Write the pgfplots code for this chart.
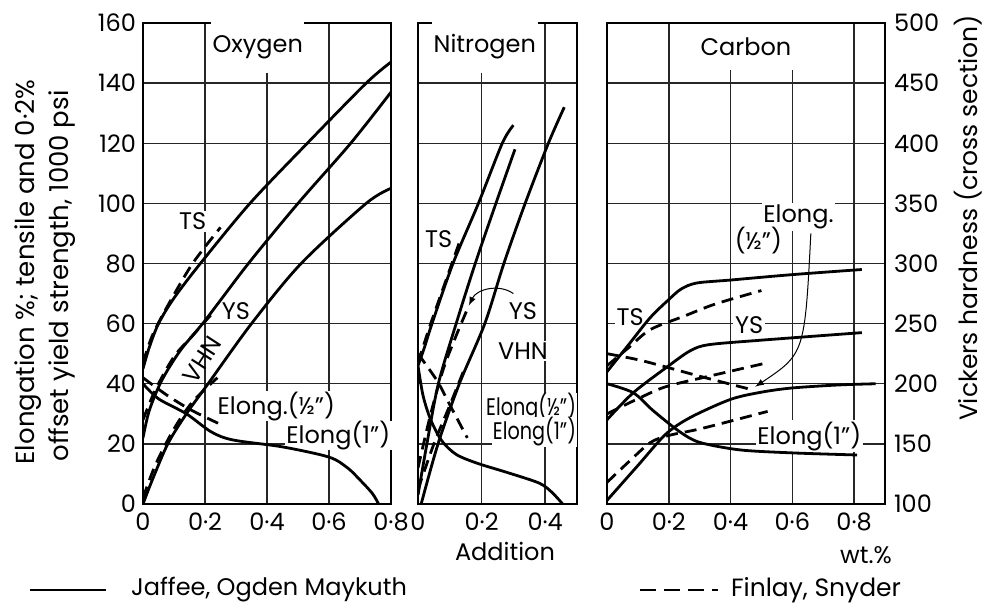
\documentclass[border=0pt]{standalone}
\usepackage{fontspec}
\setmainfont{Poppins}
\usepackage{pgfplots}
\pgfplotsset{compat=1.18}
\newcommand\lbl{\fontsize{12}{14}\selectfont}
\tikzset{
  fs/.style={dash pattern=on 6pt off 3.5pt},
  lab/.style={font=\lbl, fill=white, inner sep=0.8pt},
}
\pgfplotsset{
  panel/.style={
    scale only axis, height=240.5pt, ymin=0, ymax=160,
    ytick={0,20,...,160}, grid=major,
    grid style={black!85, line width=0.75pt},
    axis line style={line width=1.2pt}, major tick length=0pt,
    tick label style={font=\lbl},
    xticklabel style={yshift=-1pt},
    anchor=south west, clip mode=individual,
    cycle list={{black,solid}},
    every axis plot/.append style={line width=1.4pt, black, smooth, no marks},
  },
  vhn/.style={y filter/.expression={(y-100)/2.5}},
}
\begin{document}
\begin{tikzpicture}[font=\lbl]
\useasboundingbox (0pt,-304.5pt) rectangle (493.5pt,0pt);
% ---------------- Oxygen ----------------
\begin{axis}[panel, at={(71.5pt,-252pt)}, width=124pt,
  xmin=0, xmax=0.8, xtick={0,0.2,0.4,0.6,0.8},
  xticklabels={0,0·2,0·4,0·6,0·8},
  yticklabels={0,20,40,60,80,100,120,140,160}]
\node[lab, inner ysep=7pt] at (axis cs:0.37,152) {Oxygen};
\node[lab] at (axis cs:0.16,94) {TS};
\node[lab] at (axis cs:0.30,64) {YS};
\node[font=\lbl, rotate=57, inner sep=0pt] at (axis cs:0.19,48) {VHN};
\node[lab, inner ysep=0.3pt] at (axis cs:0.43,32.5) {Elong.(½")};
\node[lab, inner ysep=0pt] at (axis cs:0.63,22.8) {Elong(1")};
% TS
\addplot coordinates {(0,45)(0.02,52)(0.05,60)(0.1,68.5)(0.185,80)(0.345,100)(0.53,120)(0.72,140)(0.8,147)};
\addplot[fs] coordinates {(0,47)(0.03,56)(0.08,66)(0.16,80)(0.25,92)};
% YS
\addplot coordinates {(0,22)(0.02,31)(0.06,41)(0.12,51)(0.2,61)(0.34,80)(0.5,100)(0.67,120)(0.8,137)};
\addplot[fs] coordinates {(0,28)(0.04,38)(0.1,49)(0.16,56)(0.22,63)};
% VHN (Vickers)
\addplot[vhn] coordinates {(0,100)(0.03,120)(0.08,150)(0.14,175)(0.21,200)(0.35,250)(0.51,300)(0.72,350)(0.8,362.5)};
\addplot[vhn,fs] coordinates {(0,105)(0.04,132.5)(0.1,162.5)(0.16,185)(0.24,205)};
% Elongation
\addplot coordinates {(0,40)(0.05,35)(0.14,30)(0.22,24)(0.29,21.3)(0.45,19)(0.6,15.6)(0.66,12)(0.7,8)(0.74,3.5)(0.76,0)};
\addplot[fs] coordinates {(0,42)(0.08,36)(0.16,31)(0.26,26)};
\end{axis}
% ---------------- Nitrogen ----------------
\begin{axis}[panel, at={(209pt,-252pt)}, width=79.5pt,
  xmin=0, xmax=0.5, xtick={0,0.2,0.4},
  xticklabels={0,0·2,0·4}, yticklabels={}]
\node[lab, inner ysep=7pt] at (axis cs:0.21,152) {Nitrogen};
\node[lab] at (axis cs:0.065,88) {TS};
\node[lab] at (axis cs:0.33,64) {YS};
\node[lab] at (axis cs:0.33,51) {VHN};
\node[lab, anchor=east, inner sep=0.3pt] at (axis cs:0.5,32) {\scalebox{0.8}[1]{Elong(½")}};
\node[lab, anchor=east, inner sep=0.3pt] at (axis cs:0.5,24) {\scalebox{0.8}[1]{Elong(1")}};
\draw[-latex, line width=0.5pt] (axis cs:0.30,70) to[bend right=50] (axis cs:0.16,66);
\addplot coordinates {(0,46)(0.02,52)(0.044,60)(0.11,80)(0.19,100)(0.265,120)(0.3,126)};
\addplot[fs] coordinates {(0,47)(0.04,60)(0.09,75)(0.13,87)};
\addplot coordinates {(0,3)(0.028,20)(0.064,40)(0.12,60)(0.18,80)(0.245,100)(0.305,118)};
\addplot[fs] coordinates {(0,12)(0.04,30)(0.08,45)(0.12,56)(0.16,66)};
\addplot[vhn] coordinates {(0.01,100)(0.063,150)(0.13,200)(0.21,250)(0.27,300)(0.337,350)(0.41,400)(0.46,430)};
\addplot[vhn,fs] coordinates {(0,112)(0.05,150)(0.1,182)(0.15,215)};
\addplot[fs] coordinates {(0,50)(0.06,41)(0.1,33)(0.155,22)};
\addplot coordinates {(0,46)(0.016,36)(0.04,28)(0.075,21)(0.12,16.5)(0.185,13.6)(0.28,10.5)(0.38,7)(0.42,4)(0.455,0)};
\end{axis}
% ---------------- Carbon ----------------
\begin{axis}[panel, at={(303.5pt,-252pt)}, width=139pt,
  xmin=0, xmax=0.9, xtick={0,0.2,0.4,0.6,0.8},
  xticklabels={0,0·2,0·4,0·6,0·8},
  yticklabel pos=right,
  yticklabels={100,150,200,250,300,350,400,450,500},
  yticklabel style={xshift=1pt}]
\node[lab, inner ysep=7pt] at (axis cs:0.45,152) {Carbon};
\node[lab] at (axis cs:0.075,62) {TS};
\node[lab] at (axis cs:0.46,59.5) {YS};
\node[lab] at (axis cs:0.62,95.5) {Elong.};
\node[lab] at (axis cs:0.49,87.5) {(½")};
\node[lab] at (axis cs:0.655,22.5) {Elong(1")};
\draw[-latex, line width=0.5pt] (axis cs:0.66,90) .. controls (axis cs:0.64,50) .. (axis cs:0.48,39);
\addplot coordinates {(0,44)(0.07,53)(0.14,62)(0.2,68)(0.24,71.5)(0.29,73.5)(0.4,74.5)(0.6,76.3)(0.825,78)};
\addplot[fs] coordinates {(0,46)(0.07,52)(0.14,58)(0.25,62.5)(0.35,66.5)(0.5,71)};
\addplot coordinates {(0,28)(0.085,37)(0.2,46)(0.27,51)(0.33,53)(0.5,54.5)(0.825,57)};
\addplot[fs] coordinates {(0,30)(0.1,35)(0.19,39)(0.33,42.5)(0.52,47)};
\addplot[fs] coordinates {(0,50)(0.1,48)(0.19,45.6)(0.3,42.5)(0.47,38)};
\addplot coordinates {(0,40)(0.085,37)(0.15,31)(0.236,24)(0.3,20.5)(0.43,18)(0.6,17)(0.81,16.3)};
\addplot[vhn] coordinates {(0,103)(0.1,132)(0.19,158)(0.27,172)(0.4,187)(0.5,193)(0.6,196.5)(0.75,199)(0.87,200)};
\addplot[vhn,fs] coordinates {(0,118)(0.07,135)(0.14,151)(0.2,157)(0.31,163)(0.52,177)};
\end{axis}
% ---------------- axis titles ----------------
\node[rotate=90, font=\fontsize{13}{15}\selectfont] at (14pt,-136pt) {Elongation \%; tensile and 0·2\%};
\node[rotate=90, font=\fontsize{13}{15}\selectfont] at (31pt,-138pt) {offset yield strength, 1000 psi};
\node[rotate=90, font=\fontsize{12.5}{15}\selectfont] at (484pt,-109pt) {Vickers hardness (cross section)};
\node at (252.5pt,-275.5pt) {Addition};
\node at (433pt,-277.5pt) {wt.\%};
% ---------------- legend ----------------
\draw[line width=1.4pt] (15pt,-295pt) -- (53pt,-295pt);
\node[anchor=west] at (62pt,-295pt) {Jaffee, Ogden Maykuth};
\draw[line width=1.4pt, dash pattern=on 8pt off 4pt] (320pt,-295pt) -- (359pt,-295pt);
\node[anchor=west, font=\fontsize{12.5}{14}\selectfont] at (362pt,-295pt) {Finlay, Snyder};
\end{tikzpicture}
\end{document}
